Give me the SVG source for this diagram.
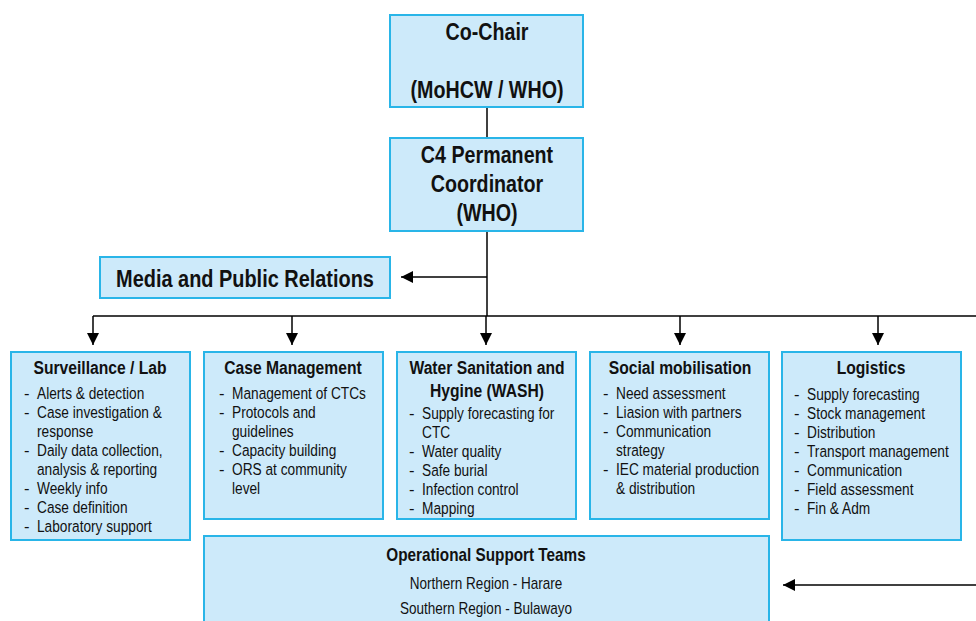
<svg xmlns="http://www.w3.org/2000/svg" width="976" height="621" viewBox="0 0 976 621">
<defs>
<marker id="ah" viewBox="0 0 12 12" refX="12" refY="6" markerWidth="12" markerHeight="12" markerUnits="userSpaceOnUse" orient="auto">
<path d="M0,0 L12,6 L0,12 Z" fill="#000"/>
</marker>
</defs>
<style>
.box{fill:#cdeafa;stroke:#29b5e8;stroke-width:2}
text{font-family:"Liberation Sans",Arial,sans-serif;fill:#111}
.big{font-size:24px;font-weight:bold;text-anchor:middle}
.ttl{font-size:18px;font-weight:bold;text-anchor:middle}
.it{font-size:16.5px}
.reg{font-size:16px;text-anchor:middle}
.ln{stroke:#000;stroke-width:1.5;fill:none}
</style>
<rect width="976" height="621" fill="#fff"/>
<g id="connectors">
<line class="ln" x1="487" y1="107" x2="487" y2="138"/>
<line class="ln" x1="487" y1="231" x2="487" y2="316"/>
<line class="ln" x1="487" y1="277" x2="401" y2="277" marker-end="url(#ah)"/>
<line class="ln" x1="93" y1="316" x2="976" y2="316"/>
<line class="ln" x1="93" y1="316" x2="93" y2="345" marker-end="url(#ah)"/>
<line class="ln" x1="292" y1="316" x2="292" y2="345" marker-end="url(#ah)"/>
<line class="ln" x1="486" y1="316" x2="486" y2="345" marker-end="url(#ah)"/>
<line class="ln" x1="680" y1="316" x2="680" y2="345" marker-end="url(#ah)"/>
<line class="ln" x1="878" y1="316" x2="878" y2="345" marker-end="url(#ah)"/>
<line class="ln" x1="976" y1="585" x2="783" y2="585" marker-end="url(#ah)"/>
</g>
<g id="co-chair">
<rect class="box" x="390" y="15" width="193" height="92"/>
<text class="big" transform="translate(487,40) scale(.82,1)">Co-Chair</text>
<text class="big" transform="translate(487,98) scale(.82,1)">(MoHCW / WHO)</text>
</g>
<g id="c4-coordinator">
<rect class="box" x="390" y="138" width="193" height="93"/>
<text class="big" transform="translate(487,163) scale(.82,1)">C4 Permanent</text>
<text class="big" transform="translate(487,192) scale(.82,1)">Coordinator</text>
<text class="big" transform="translate(487,221) scale(.82,1)">(WHO)</text>
</g>
<g id="media">
<rect class="box" x="100" y="257" width="290" height="41"/>
<text class="big" transform="translate(245,287) scale(.83,1)">Media and Public Relations</text>
</g>
<g id="surveillance">
<rect class="box" x="11" y="352" width="179" height="188"/>
<text class="ttl" transform="translate(100,374) scale(.87,1)">Surveillance / Lab</text>
<g class="it">
<text x="24" y="399">-</text><text transform="translate(37,399) scale(.83,1)">Alerts &amp; detection</text>
<text x="24" y="418">-</text><text transform="translate(37,418) scale(.83,1)">Case investigation &amp;</text>
<text transform="translate(37,437) scale(.83,1)">response</text>
<text x="24" y="456">-</text><text transform="translate(37,456) scale(.83,1)">Daily data collection,</text>
<text transform="translate(37,475) scale(.83,1)">analysis &amp; reporting</text>
<text x="24" y="494">-</text><text transform="translate(37,494) scale(.83,1)">Weekly info</text>
<text x="24" y="513">-</text><text transform="translate(37,513) scale(.83,1)">Case definition</text>
<text x="24" y="532">-</text><text transform="translate(37,532) scale(.83,1)">Laboratory support</text>
</g>
</g>
<g id="case-management">
<rect class="box" x="204" y="352" width="179" height="167"/>
<text class="ttl" transform="translate(293,374) scale(.87,1)">Case Management</text>
<g class="it">
<text x="219" y="399">-</text><text transform="translate(232,399) scale(.83,1)">Management of CTCs</text>
<text x="219" y="418">-</text><text transform="translate(232,418) scale(.83,1)">Protocols and</text>
<text transform="translate(232,437) scale(.83,1)">guidelines</text>
<text x="219" y="456">-</text><text transform="translate(232,456) scale(.83,1)">Capacity building</text>
<text x="219" y="475">-</text><text transform="translate(232,475) scale(.83,1)">ORS at community</text>
<text transform="translate(232,494) scale(.83,1)">level</text>
</g>
</g>
<g id="wash">
<rect class="box" x="397" y="352" width="179" height="167"/>
<text class="ttl" transform="translate(487,374) scale(.87,1)">Water Sanitation and</text>
<text class="ttl" transform="translate(487,397) scale(.87,1)">Hygine (WASH)</text>
<g class="it">
<text x="409" y="419">-</text><text transform="translate(422,419) scale(.83,1)">Supply forecasting for</text>
<text transform="translate(422,438) scale(.83,1)">CTC</text>
<text x="409" y="457">-</text><text transform="translate(422,457) scale(.83,1)">Water quality</text>
<text x="409" y="476">-</text><text transform="translate(422,476) scale(.83,1)">Safe burial</text>
<text x="409" y="495">-</text><text transform="translate(422,495) scale(.83,1)">Infection control</text>
<text x="409" y="514">-</text><text transform="translate(422,514) scale(.83,1)">Mapping</text>
</g>
</g>
<g id="social-mobilisation">
<rect class="box" x="590" y="352" width="179" height="167"/>
<text class="ttl" transform="translate(680,374) scale(.87,1)">Social mobilisation</text>
<g class="it">
<text x="603" y="399">-</text><text transform="translate(616,399) scale(.83,1)">Need assessment</text>
<text x="603" y="418">-</text><text transform="translate(616,418) scale(.83,1)">Liasion with partners</text>
<text x="603" y="437">-</text><text transform="translate(616,437) scale(.83,1)">Communication</text>
<text transform="translate(616,456) scale(.83,1)">strategy</text>
<text x="603" y="475">-</text><text transform="translate(616,475) scale(.83,1)">IEC material production</text>
<text transform="translate(616,494) scale(.83,1)">&amp; distribution</text>
</g>
</g>
<g id="logistics">
<rect class="box" x="782" y="352" width="179" height="188"/>
<text class="ttl" transform="translate(871,374) scale(.87,1)">Logistics</text>
<g class="it">
<text x="794" y="400">-</text><text transform="translate(807,400) scale(.83,1)">Supply forecasting</text>
<text x="794" y="419">-</text><text transform="translate(807,419) scale(.83,1)">Stock management</text>
<text x="794" y="438">-</text><text transform="translate(807,438) scale(.83,1)">Distribution</text>
<text x="794" y="457">-</text><text transform="translate(807,457) scale(.83,1)">Transport management</text>
<text x="794" y="476">-</text><text transform="translate(807,476) scale(.83,1)">Communication</text>
<text x="794" y="495">-</text><text transform="translate(807,495) scale(.83,1)">Field assessment</text>
<text x="794" y="514">-</text><text transform="translate(807,514) scale(.83,1)">Fin &amp; Adm</text>
</g>
</g>
<g id="operational-support">
<rect class="box" x="204" y="536" width="565" height="100"/>
<text class="ttl" transform="translate(486,561) scale(.85,1)">Operational Support Teams</text>
<text class="reg" transform="translate(486,589) scale(.845,1)">Northern Region - Harare</text>
<text class="reg" transform="translate(486,614) scale(.845,1)">Southern Region - Bulawayo</text>
</g>
</svg>
